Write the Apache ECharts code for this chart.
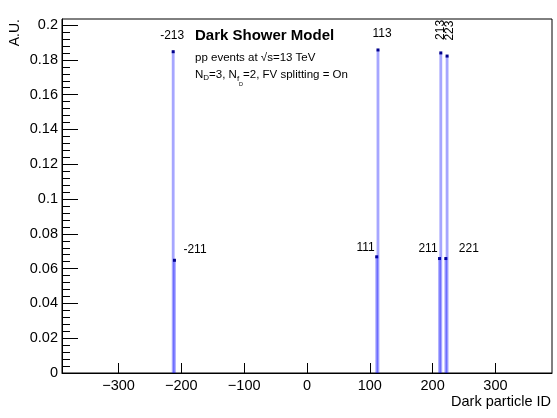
<!DOCTYPE html>
<html><head><meta charset="utf-8">
<script src="https://cdn.jsdelivr.net/npm/echarts@6/dist/echarts.min.js"></script>
<style>html,body{margin:0;padding:0;background:#fff}#c{width:557px;height:418px}</style>
</head><body><div id="c"></div>
<script>
// ---- data ----
const particleIds = [-213, -211, 111, 113, 211, 213, 221, 223];
const fractions   = [0.1847, 0.0648, 0.0668, 0.1857, 0.0658, 0.1840, 0.0658, 0.1822];
const particleLabels = ['-213', '-211', '111', '113', '211', '213', '221', '223'];
const yTickValues = [0, 0.02, 0.04, 0.06, 0.08, 0.1, 0.12, 0.14, 0.16, 0.18, 0.2];
const xTickValues = [-300, -200, -100, 0, 100, 200, 300];

// ---- layout / style (not data) ----
const FONT = "'Liberation Sans', Arial, Helvetica, sans-serif";
const binWidth = 4.5;
const labelLayout = {
  '-213': {dx: -1, dy: -16.5, align: 'center'},
  '-211': {dx: 9, dy: -11, align: 'left'},
  '111':  {dx: -2, dy: -9, align: 'right'},
  '113':  {dx: 4, dy: -16, align: 'center'},
  '211':  {dx: -2, dy: -10, align: 'right'},
  '213':  {dx: 0, dy: -23, align: 'center', rot: true},
  '221':  {dx: 13, dy: -10, align: 'left'},
  '223':  {dx: 2.5, dy: -25.5, align: 'center', rot: true}
};
const yMinorValues = [];
for (let i = 0; i < yTickValues.length - 1; i++) {
  const a = yTickValues[i], b = yTickValues[i + 1];
  for (let k = 1; k < 5; k++) yMinorValues.push(+(a + (b - a) * k / 5).toFixed(4));
}

const chart = echarts.init(document.getElementById('c'), null, {renderer: 'canvas'});

// line with subscripts, measured with canvas
const mctx = document.createElement('canvas').getContext('2d');
function segs(x0, yc, parts) {
  const out = [];
  let x = x0;
  parts.forEach(p => {
    const f = p.size + 'px ' + FONT;
    mctx.font = f;
    out.push({type: 'text', x: x, y: yc + p.dy, style: {text: p.t, font: f, fill: '#000', align: 'left', verticalAlign: 'middle'}});
    x += mctx.measureText(p.t).width;
  });
  return out;
}
const infoLine = segs(195, 75, [
  {t: 'N', size: 11.5, dy: 0},
  {t: 'D', size: 8, dy: 3},
  {t: '=3, N', size: 11.5, dy: 0},
  {t: 'f', size: 8, dy: 3.5},
  {t: 'D', size: 5.5, dy: 9},
  {t: '=2, FV splitting = On', size: 11.5, dy: 0}
]);

const option = {
  animation: false,
  backgroundColor: '#fff',
  grid: {left: 62, right: 5, top: 19, bottom: 45, show: true, borderColor: '#000', borderWidth: 1, backgroundColor: 'transparent'},
  xAxis: {
    type: 'value', min: -390, max: 390,
    axisLine: {show: true, onZero: false, lineStyle: {color: '#000', width: 1}},
    axisTick: {show: true, inside: true, length: 10, customValues: xTickValues, lineStyle: {color: '#000'}},
    axisLabel: {show: true, customValues: xTickValues, margin: 5, color: '#000', fontFamily: FONT, fontSize: 14.5,
      formatter: v => v < 0 ? '\u2212' + (-v) : String(v)},
    splitLine: {show: false}
  },
  yAxis: [{
    type: 'value', min: 0, max: 0.2035, position: 'left',
    axisLine: {show: true, onZero: false, lineStyle: {color: '#000', width: 1}},
    axisTick: {show: true, inside: true, length: 16, customValues: yTickValues, lineStyle: {color: '#000'}},
    axisLabel: {show: true, customValues: yTickValues, margin: 4, color: '#000', fontFamily: FONT, fontSize: 14.5,
      formatter: v => v === 0 ? '0' : String(+v.toFixed(2))},
    splitLine: {show: false}
  }, {
    type: 'value', min: 0, max: 0.2035, position: 'left', offset: 0,
    axisLine: {show: false, onZero: false},
    axisTick: {show: true, inside: true, length: 8, customValues: yMinorValues, lineStyle: {color: '#000'}},
    axisLabel: {show: false},
    splitLine: {show: false}
  }],
  series: [{
    type: 'custom',
    xAxisIndex: 0, yAxisIndex: 0,
    data: particleIds.map((id, i) => [id, fractions[i]]),
    renderItem: function (params, api) {
      const x = api.value(0), y = api.value(1);
      const tl = api.coord([x - binWidth / 2, y]);
      const br = api.coord([x + binWidth / 2, 0]);
      const c = api.coord([x, y]);
      const name = particleLabels[params.dataIndex];
      const L = labelLayout[name];
      return {
        type: 'group',
        children: [
          {type: 'rect', shape: {x: tl[0], y: tl[1], width: br[0] - tl[0], height: br[1] - tl[1]}, style: {fill: 'rgba(0,0,255,0.35)'}},
          {type: 'rect', shape: {x: c[0] - 1.5, y: c[1] - 1.5, width: 3, height: 3}, style: {fill: '#00008b'}},
          {type: 'text', x: c[0] + L.dx, y: c[1] + L.dy, rotation: L.rot ? Math.PI / 2 : 0,
            style: {text: name, font: '12px ' + FONT, fill: '#000', align: L.align, verticalAlign: 'middle'}}
        ]
      };
    }
  }],
  graphic: [
    {type: 'text', x: 15, y: 19, rotation: Math.PI / 2, style: {text: 'A.U.', font: '14px ' + FONT, fill: '#000', align: 'right', verticalAlign: 'middle'}},
    {type: 'text', x: 551, y: 402, style: {text: 'Dark particle ID', font: '14.5px ' + FONT, fill: '#000', align: 'right', verticalAlign: 'middle'}},
    {type: 'text', x: 195, y: 36, style: {text: 'Dark Shower Model', font: 'bold 15px ' + FONT, fill: '#000', align: 'left', verticalAlign: 'middle'}},
    {type: 'text', x: 195, y: 57.5, style: {text: 'pp events at \u221As=13 TeV', font: '11.5px ' + FONT, fill: '#000', align: 'left', verticalAlign: 'middle'}}
  ].concat(infoLine)
};
chart.setOption(option);
</script>
</body></html>
